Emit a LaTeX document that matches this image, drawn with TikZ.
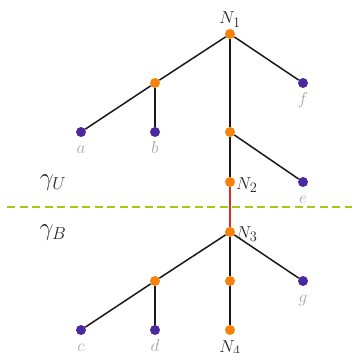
\documentclass[tikz,border=0pt]{standalone}
\begin{document}
\begin{tikzpicture}[x=1pt,y=-1pt,
  every node/.style={font=\fontsize{19}{22}\selectfont,inner sep=0pt},
  inner/.style={circle,fill=myorange,inner sep=0pt,minimum size=10pt},
  leaf/.style={circle,fill=mypurple,inner sep=0pt,minimum size=10pt},
  edge/.style={line width=1.5pt,black!90},
  lab/.style={text=black!35,anchor=base},
  nlab/.style={text=black!85},
  glab/.style={text=black!85,font=\fontsize{25}{28}\selectfont}]
\definecolor{myorange}{RGB}{245,130,10}
\definecolor{mypurple}{RGB}{75,40,160}
\definecolor{myred}{RGB}{215,45,35}
\definecolor{mygreen}{RGB}{160,205,20}
\useasboundingbox (0,0) rectangle (352,353);
% dashed line
\coordinate (dl) at (7,207);
\coordinate (dr) at (352,207);
\draw[mygreen,line width=2.6pt,dash pattern=on 8pt off 4.5pt] (dl) -- (dr);
% nodes
\node[inner] (n1) at (230,34) {};
\node[inner] (u1) at (155,83) {};
\node[leaf] (f) at (303,83) {};
\node[leaf] (a) at (81,132) {};
\node[leaf] (b) at (155,132) {};
\node[inner] (u2) at (230,132) {};
\node[leaf] (e) at (303,182) {};
\node[inner] (n2) at (230,182) {};
\node[inner] (n3) at (230,232) {};
\node[inner] (l1) at (155,281) {};
\node[inner] (l2) at (230,281) {};
\node[leaf] (g) at (303,281) {};
\node[leaf] (c) at (81,330) {};
\node[leaf] (d) at (155,330) {};
\node[inner] (n4) at (230,330) {};
% edges
\draw[edge] (n1) -- (u1);
\draw[edge] (n1) -- (f);
\draw[edge] (n1) -- (u2);
\draw[edge] (u1) -- (a);
\draw[edge] (u1) -- (b);
\draw[edge] (u2) -- (e);
\draw[edge] (u2) -- (n2);
\draw[myred,line width=1.8pt] (n2) -- (n3);
\draw[edge] (n3) -- (l1);
\draw[edge] (n3) -- (l2);
\draw[edge] (n3) -- (g);
\draw[edge] (l1) -- (c);
\draw[edge] (l1) -- (d);
\draw[edge] (l2) -- (n4);
% labels
\node[nlab,anchor=base] (tn1) at ([yshift=10pt]n1) {$N_1$};
\node[nlab,anchor=base west] (tn2) at ([xshift=6pt,yshift=-7pt]n2) {$N_2$};
\node[nlab,anchor=base west] (tn3) at ([xshift=6pt,yshift=-6pt]n3) {$N_3$};
\node[nlab,anchor=base] (tn4) at ([yshift=-22pt]n4) {$N_4$};
\node[lab] (ta) at ([yshift=-21pt]a) {$a$};
\node[lab] (tb) at ([yshift=-21pt]b) {$b$};
\node[lab] (tc) at ([yshift=-21pt]c) {$c$};
\node[lab] (td) at ([yshift=-21pt]d) {$d$};
\node[lab] (te) at ([yshift=-21pt]e) {$e$};
\node[lab] (tf) at ([yshift=-21pt]f) {$f$};
\node[lab] (tg) at ([yshift=-21pt]g) {$g$};
\node[glab] (gu) at (53,183) {$\gamma_U$};
\node[glab] (gb) at (53,233) {$\gamma_B$};
\end{tikzpicture}
\end{document}
